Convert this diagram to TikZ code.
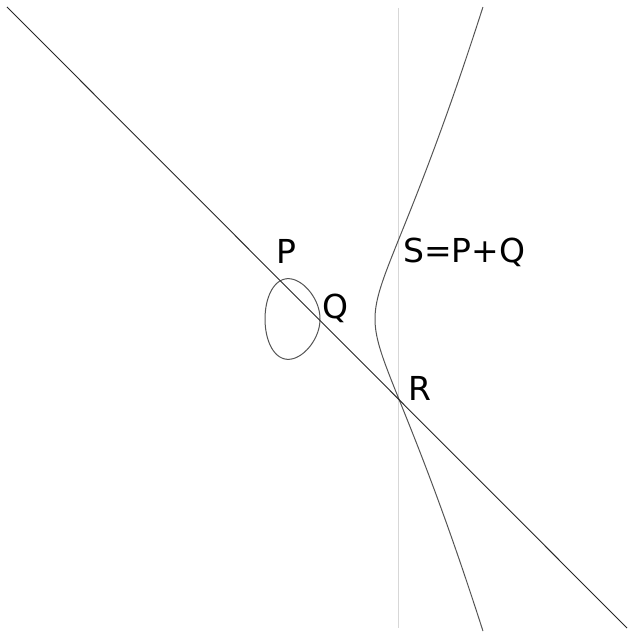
\documentclass[tikz,border=0pt]{standalone}
\usepackage{fontspec}
\setmainfont{DejaVu Sans}
\usetikzlibrary{calc}
\definecolor{curvegray}{RGB}{85,85,85}
\definecolor{axisgray}{RGB}{215,215,215}
\tikzset{
  curve/.style={draw=curvegray, line width=1pt},
  secant/.style={draw=black!85, line width=0.9pt},
  vline/.style={draw=axisgray, line width=1pt},
  lbl/.style={inner sep=0pt, anchor=base west, font=\fontsize{33}{37}\selectfont, text=black}
}
\begin{document}
\begin{tikzpicture}[x=1pt, y=-1pt]
\useasboundingbox (0,0) rectangle (629,636);
% points on the curve
\coordinate (P) at (281.9,280.0);
\coordinate (Q) at (320.0,318.0);
\coordinate (R) at (397.4,395.4);
\coordinate (S) at (397.4,242.6);
\coordinate (A) at (7,7);
\coordinate (B) at (627,628);
\coordinate (T) at (398,8);
\coordinate (U) at (398,628);
% vertical line through R
\draw[vline] (T) -- (U);
% right branch of the curve
\draw[curve] plot[domain=-1.401:1.401, samples=120, smooth, variable=\t]
  ({320+55*(1+\t*\t)}, {319-65*\t*sqrt((1+\t*\t)*(2+\t*\t))});
% oval
\draw[curve] plot[domain=0:360, samples=100, smooth cycle, variable=\a]
  ({320+55*(cos(\a)-1)/2}, {319-65*sin(\a)/2*sqrt((3-cos(\a))/2)});
% secant line through P, Q and R
\draw[secant] (A) -- (B);
% labels
\node[lbl] (lP) at (276,263) {P};
\node[lbl] (lQ) at (322,318) {Q};
\node[lbl] (lR) at (408,400) {R};
\node[lbl] (lS) at (403,262) {S=P+Q};
\end{tikzpicture}
\end{document}
